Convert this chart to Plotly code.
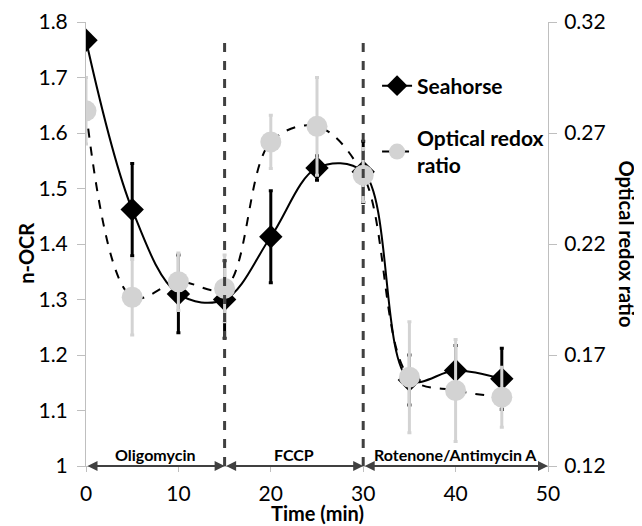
import plotly.graph_objects as go

time = [0, 5, 10, 15, 20, 25, 30, 35, 40, 45]
seahorse = [1.767, 1.462, 1.31, 1.30, 1.413, 1.537, 1.53, 1.155, 1.172, 1.157]
seahorse_err = [0, 0.083, 0.07, 0.07, 0.083, 0.022, 0.055, 0.045, 0.045, 0.055]
redox = [0.280, 0.196, 0.203, 0.200, 0.266, 0.273, 0.251, 0.160, 0.154, 0.151]
redox_err = [0.015, 0.017, 0.013, 0.015, 0.012, 0.022, 0.012, 0.025, 0.023, 0.0135]

phase_bounds = [0, 15, 30, 50]
phase_labels = ["Oligomycin", "FCCP", "Rotenone/Antimycin A"]
injection_times = [15, 30]

FONT = "Lato"
AX = "#bfbfbf"
DARK = "#404040"
TICKFONT = 21

fig = go.Figure()

fig.add_trace(go.Scatter(
    x=time, y=seahorse, name="Seahorse", mode="lines+markers", legendgroup="a",
    line=dict(color="black", width=2, shape="spline", smoothing=1),
    marker=dict(symbol="diamond", size=18, color="black"),
    error_y=dict(type="data", array=seahorse_err, color="black", thickness=3, width=2),
    yaxis="y",
))
fig.add_trace(go.Scatter(
    x=time, y=redox, name="Optical redox<br>ratio", mode="lines+markers", legendgroup="b",
    line=dict(color="black", width=2, dash="dash", shape="spline", smoothing=1),
    marker=dict(symbol="circle", size=21, color="#d3d3d3"),
    error_y=dict(type="data", array=redox_err, color="#d3d3d3", thickness=3, width=2),
    yaxis="y2",
))

for t in injection_times:
    fig.add_shape(type="line", xref="x", yref="y", x0=t, x1=t, y0=1.0, y1=1.777,
                  line=dict(color=DARK, width=3, dash="dash"))

for i, lab in enumerate(phase_labels):
    a, b = phase_bounds[i], phase_bounds[i + 1]
    fig.add_annotation(x=b, y=1.0, ax=a, ay=1.0, xref="x", yref="y", axref="x", ayref="y",
                       text="", showarrow=True, arrowhead=2, startarrowhead=2, arrowside="end+start",
                       arrowwidth=2, arrowsize=1, startarrowsize=1, arrowcolor=DARK)
    fig.add_annotation(x=(a + b) / 2, y=1.02, xref="x", yref="y", text="<b>" + lab + "</b>",
                       showarrow=False, font=dict(family=FONT, size=16, color="black"))

# axis titles as annotations (paper coords)
fig.add_annotation(x=-0.13, y=0.48, xref="paper", yref="paper", text="<b>n-OCR</b>",
                   xanchor="center", yanchor="middle",
                   textangle=-90, showarrow=False, font=dict(family=FONT, size=20, color="black"))
fig.add_annotation(x=0.5, y=-0.106, xref="paper", yref="paper", text="<b>Time (min)</b>",
                   xanchor="center", yanchor="middle", showarrow=False,
                   font=dict(family=FONT, size=20, color="black"))
fig.add_annotation(x=1.172, y=0.5, xref="paper", yref="paper", text="<b>Optical redox ratio</b>",
                   xanchor="center", yanchor="middle",
                   textangle=90, showarrow=False, font=dict(family=FONT, size=20, color="black"))

fig.update_layout(
    width=634, height=518,
    margin=dict(l=78, r=94, t=14, b=60, autoexpand=False),
    paper_bgcolor="white", plot_bgcolor="white",
    font=dict(family=FONT, size=TICKFONT, color="black"),
    showlegend=True,
    legend=dict(x=0.63, y=0.902, xanchor="left", yanchor="top", bgcolor="rgba(0,0,0,0)",
                font=dict(family=FONT, size=21, color="black", weight="bold"),
                itemwidth=30, tracegroupgap=22),
    xaxis=dict(range=[0, 50], tickvals=[0, 10, 20, 30, 40, 50], showgrid=False, zeroline=False,
               automargin=False, showline=True, linecolor=AX, linewidth=1,
               ticks="outside", tickcolor=AX, ticklen=5, ticklabelstandoff=4,
               tickfont=dict(size=TICKFONT)),
    yaxis=dict(range=[1.0, 1.8], tickvals=[1.0, 1.1, 1.2, 1.3, 1.4, 1.5, 1.6, 1.7, 1.8],
               ticktext=["1", "1.1", "1.2", "1.3", "1.4", "1.5", "1.6", "1.7", "1.8"],
               automargin=False, showgrid=False, zeroline=False, showline=True, linecolor=AX, linewidth=1,
               ticks="outside", tickcolor=AX, ticklen=8, ticklabelstandoff=5,
               tickfont=dict(size=TICKFONT)),
    yaxis2=dict(range=[0.12, 0.32], tickvals=[0.12, 0.17, 0.22, 0.27, 0.32], overlaying="y", side="right",
                automargin=False, showgrid=False, zeroline=False, showline=True, linecolor=AX, linewidth=1,
                ticks="outside", tickcolor=AX, ticklen=8, ticklabelstandoff=3, tickformat=".2f",
                tickfont=dict(size=TICKFONT)),
)

fig.write_html("out.html")
